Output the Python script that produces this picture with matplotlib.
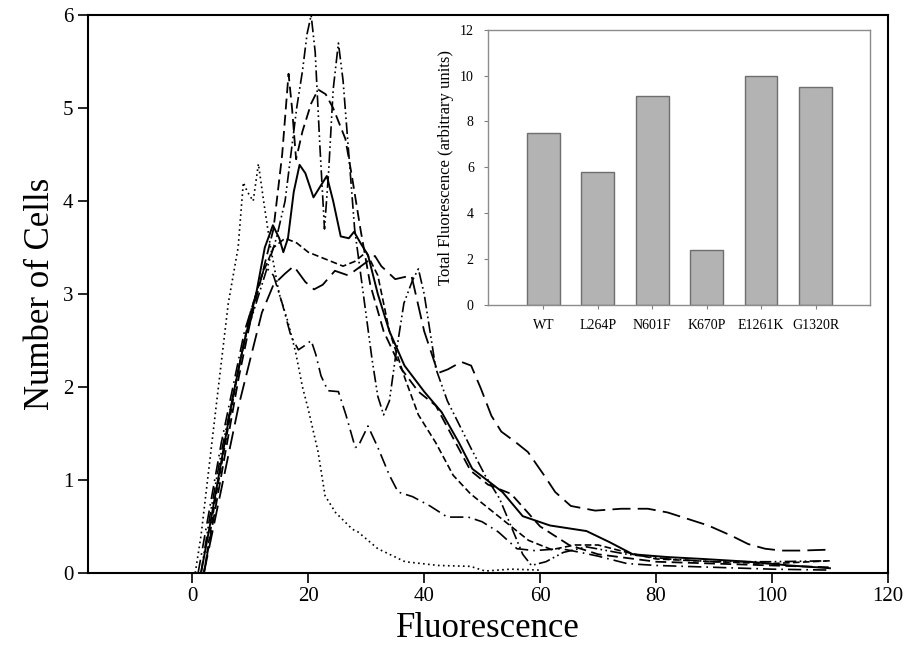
import matplotlib.pyplot as plt

plt.rcParams['font.family'] = ['Liberation Serif', 'DejaVu Serif']

# histogramas de fluorescencia (leidos a ojo de la figura)
x_solid = [1.5, 3, 5, 7, 9, 11, 12.5, 13.9, 15, 15.7, 16.5, 17.5, 18.5, 19.5, 20.9, 22, 23.2, 24.3, 25.6,
           27, 27.9, 29, 30.3, 32, 34, 36.6, 40, 43, 46, 48.3, 53.5, 57, 61.7, 68, 72, 76, 82, 88, 96, 103, 110]
y_solid = [0, 0.5, 1.2, 1.9, 2.5, 3.0, 3.5, 3.74, 3.6, 3.45, 3.6, 4.1, 4.39, 4.3, 4.04, 4.15, 4.27, 4.0, 3.62,
           3.6, 3.67, 3.55, 3.42, 3.0, 2.6, 2.23, 1.95, 1.73, 1.4, 1.12, 0.87, 0.61, 0.51, 0.45, 0.33, 0.2, 0.17,
           0.15, 0.12, 0.08, 0.05]

x_tall = [1.5, 3, 5, 7, 9, 11, 13, 14.5, 16, 17, 18, 19, 19.8, 20.5, 21.2, 22, 22.8, 23.5, 24.3, 25.2, 26, 27,
          28, 29.5, 31, 32, 33, 34, 35, 36.5, 38, 39, 40, 41, 42, 44, 46, 48, 50.5, 53, 55, 57, 58.5, 61, 64, 68,
          75, 82, 90, 100, 110]
y_tall = [0, 0.6, 1.3, 1.9, 2.5, 2.9, 3.3, 3.6, 4.0, 4.5, 5.0, 5.4, 5.8, 6.0, 5.6, 4.6, 3.7, 4.3, 5.2, 5.7, 5.3,
          4.5, 3.7, 3.0, 2.3, 1.9, 1.7, 1.85, 2.3, 2.9, 3.15, 3.27, 3.0, 2.6, 2.2, 1.85, 1.6, 1.35, 1.05, 0.8, 0.5,
          0.2, 0.08, 0.12, 0.22, 0.28, 0.2, 0.15, 0.12, 0.12, 0.13]

x_dash = [2, 4, 6, 8, 10, 12, 14, 15.5, 16.6, 17.2, 17.9, 19, 20.5, 21.7, 23, 24.3, 26.4, 27.5, 29, 30.7, 33,
          36, 39, 42, 45, 48, 51, 55, 60, 65, 70, 80, 90, 100, 110]
y_dash = [0, 0.7, 1.4, 2.1, 2.7, 3.2, 3.7, 4.5, 5.37, 5.0, 4.45, 4.75, 5.05, 5.2, 5.15, 5.0, 4.67, 4.28, 3.7, 3.1,
          2.6, 2.2, 1.95, 1.8, 1.45, 1.1, 0.95, 0.85, 0.5, 0.3, 0.2, 0.12, 0.1, 0.08, 0.06]

x_long = [2, 4, 6, 8, 10, 12, 14, 16, 17.5, 19.5, 21, 22.5, 24.6, 26.9, 29.1, 31.5, 32.6, 35, 37.8, 40, 42.4,
          44.1, 46.4, 48.1, 49.8, 51.6, 53.3, 55.7, 57.9, 60.8, 62.6, 65.3, 69.5, 74, 78.6, 82, 85.5, 89, 93,
          95.9, 98.8, 101.6, 105, 110]
y_long = [0, 0.6, 1.2, 1.8, 2.3, 2.8, 3.1, 3.22, 3.3, 3.13, 3.05, 3.1, 3.25, 3.2, 3.3, 3.41, 3.3, 3.16, 3.2,
          2.6, 2.15, 2.19, 2.27, 2.23, 1.98, 1.69, 1.52, 1.41, 1.3, 1.04, 0.87, 0.72, 0.67, 0.69, 0.69, 0.65,
          0.58, 0.51, 0.4, 0.31, 0.26, 0.24, 0.24, 0.25]

x_dd = [1, 3, 5, 7, 9, 11, 12.5, 14, 15.5, 17, 18.3, 19.5, 20.5, 21.3, 22.2, 23.4, 25.2, 26.5, 28.1, 28.6, 30.3,
        32, 34, 35.5, 38, 41, 44, 47.6, 50, 52.8, 56, 59, 63.6, 67, 70, 75, 80, 90, 100, 110]
y_dd = [0, 0.7, 1.4, 2.0, 2.6, 3.0, 3.3, 3.2, 2.9, 2.55, 2.4, 2.45, 2.5, 2.35, 2.12, 1.96, 1.95, 1.7, 1.35, 1.36,
        1.58, 1.35, 1.05, 0.87, 0.82, 0.72, 0.6, 0.6, 0.55, 0.44, 0.26, 0.24, 0.26, 0.22, 0.18, 0.1, 0.08, 0.06,
        0.04, 0.03]

x_dot = [0.5, 1.5, 3, 4.5, 6.2, 7.9, 8.8, 9.5, 10.5, 11.4, 12.3, 13.5, 15, 16.5, 17.8, 19, 20, 21.7, 22.9, 24.7,
         27.6, 28.6, 32, 36.7, 42.4, 48, 50.5, 55, 60]
y_dot = [0, 0.4, 1.2, 2.0, 2.9, 3.5, 4.2, 4.1, 4.0, 4.4, 4.0, 3.5, 3.0, 2.7, 2.38, 2.0, 1.76, 1.3, 0.83, 0.65,
         0.47, 0.44, 0.26, 0.12, 0.08, 0.07, 0.02, 0.04, 0.03]

x_mid = [2, 4, 6, 8, 10, 12, 14, 16, 18, 20, 22, 24, 26, 28, 30, 32, 34, 36.7, 39, 42, 45, 48, 51, 55, 58, 62,
         66, 70, 75, 80, 90, 100, 110]
y_mid = [0, 0.8, 1.5, 2.2, 2.8, 3.2, 3.5, 3.6, 3.55, 3.45, 3.4, 3.35, 3.3, 3.35, 3.45, 3.2, 2.6, 2.09, 1.7, 1.4,
         1.05, 0.85, 0.7, 0.5, 0.35, 0.25, 0.3, 0.3, 0.22, 0.15, 0.12, 0.1, 0.13]

# grafica de barras del recuadro
mutantes = ['WT', 'L264P', 'N601F', 'K670P', 'E1261K', 'G1320R']
fluor_total = [7.5, 5.8, 9.1, 2.4, 10.0, 9.5]

fig = plt.figure(figsize=(9.1, 6.6), dpi=100)
ax = fig.add_axes([0.0967, 0.132, 0.879, 0.845])

ax.plot(x_solid, y_solid, color='black', lw=1.4, ls='-')
ax.plot(x_tall, y_tall, color='black', lw=1.2, ls=(0, (7, 2, 1, 2, 1, 2)))
ax.plot(x_dash, y_dash, color='black', lw=1.3, ls=(0, (6, 3)))
ax.plot(x_long, y_long, color='black', lw=1.3, ls=(0, (10, 4)))
ax.plot(x_dd, y_dd, color='black', lw=1.2, ls=(0, (8, 3, 1, 3)))
ax.plot(x_dot, y_dot, color='black', lw=1.2, ls=(0, (1, 2)))
ax.plot(x_mid, y_mid, color='black', lw=1.2, ls=(0, (4, 2)))

ax.set_xlim(-18, 120)
ax.set_ylim(0, 6)
ax.set_xticks([0, 20, 40, 60, 80, 100, 120])
ax.set_yticks([0, 1, 2, 3, 4, 5, 6])
ax.tick_params(direction='out', length=7, width=1.2, labelsize=15)
for s in ax.spines.values():
    s.set_linewidth(1.5)
ax.set_xlabel('Fluorescence', fontsize=25)
ax.set_ylabel('Number of Cells', fontsize=25)

# recuadro
ins = fig.add_axes([0.536, 0.538, 0.42, 0.417])
ins.bar(range(len(mutantes)), fluor_total, width=0.6, color='#b3b3b3', edgecolor='#6e6e6e', lw=1)
ins.set_xlim(-1.02, 6.0)
ins.set_ylim(0, 12)
ins.set_yticks([0, 2, 4, 6, 8, 10, 12])
ins.set_xticks(range(len(mutantes)))
ins.set_xticklabels(mutantes)
ins.tick_params(direction='out', length=3, width=0.8, color='#808080', labelsize=10, pad=7)
for s in ins.spines.values():
    s.set_color('#8c8c8c')
    s.set_linewidth(1)
ins.set_ylabel('Total Fluorescence (arbitrary units)', fontsize=12)

plt.savefig('out.png')
